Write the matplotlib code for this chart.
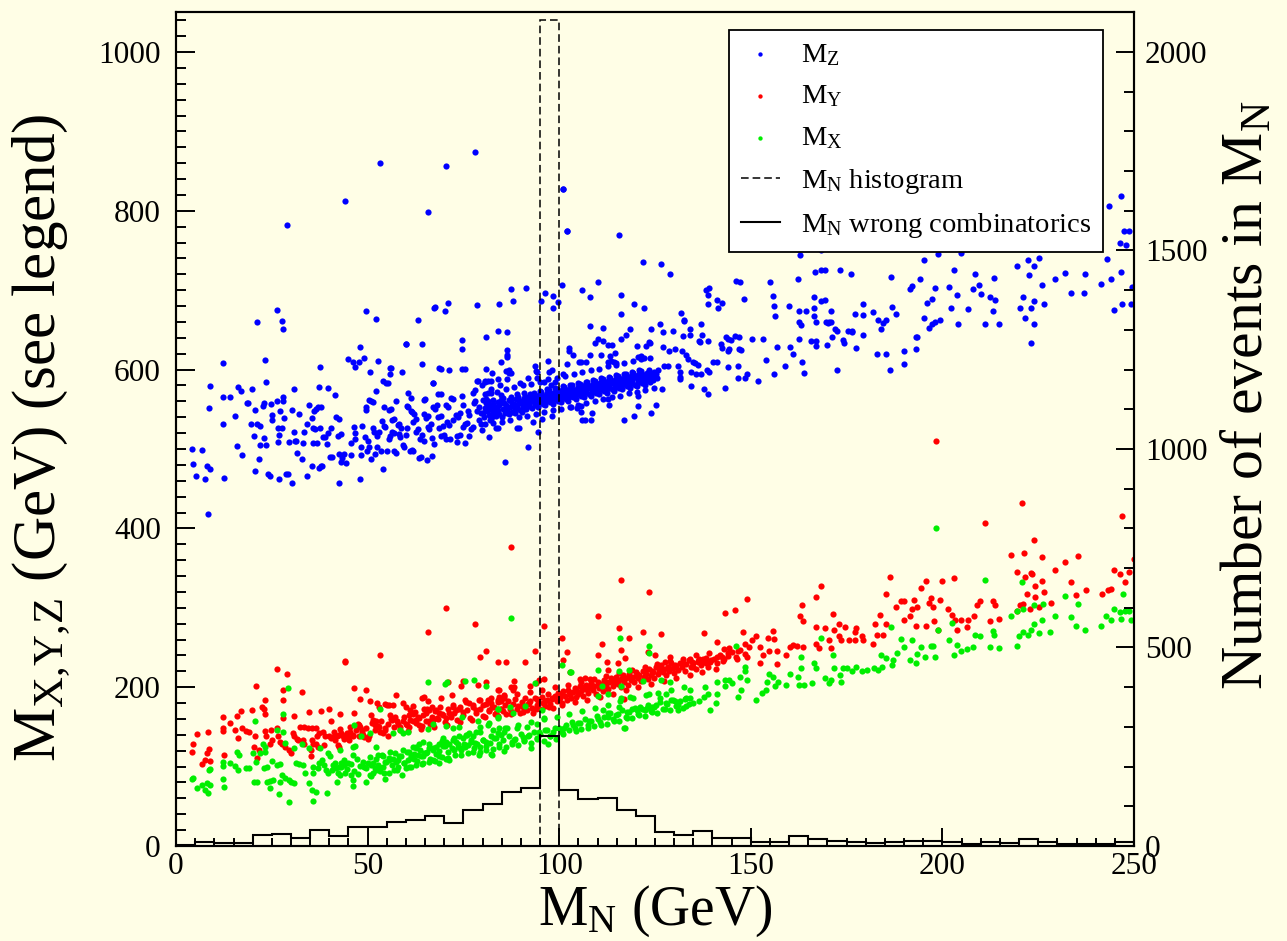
import numpy as np
import matplotlib
matplotlib.use("Agg")
import matplotlib.pyplot as plt
from matplotlib.ticker import MultipleLocator

plt.rcParams["font.family"] = "Liberation Serif"
plt.rcParams["mathtext.fontset"] = "custom"
plt.rcParams["mathtext.rm"] = "Liberation Serif"
plt.rcParams["mathtext.it"] = "Liberation Serif:italic"

# reconstructed masses per event (M_N, M_Z) in GeV
mz_pts = [
    (4.1,500),(4.4,481),(5.3,466),(6.7,499),(7.5,462),(8.1,479),(8.8,475),(8.4,418),(8.5,552),(8.8,579),
    (12.2,608),(12.2,566),(12.2,532),(12.6,463),(14.0,566),(15.4,542),(16.0,504),(16.2,578),(17.0,573),(17.1,493),
    (18.5,558),(18.9,558),(19.5,532),(19.9,576),(20.3,516),(20.7,549),(20.7,472),(21.0,660),(21.2,532),(22.0,529),
    (21.8,505),(21.7,488),(22.8,554),(23.0,558),(23.0,514),(23.3,612),(23.4,584),(23.5,505),(24.0,469),(24.5,466),
    (24.9,557),(25.1,543),(25.1,537),(26.4,561),(26.4,675),(26.5,526),(26.8,518),(26.6,509),(26.9,462),(27.1,548),
    (27.6,526),(27.7,661),(27.9,651),(28.0,565),(28.0,560),(28.3,539),(28.7,469),(29.2,469),(29.6,509),(30.3,549),
    (30.3,457),(30.7,576),(30.8,521),(31.1,510),(31.4,510),(31.5,495),(32.2,544),(32.9,487),(33.0,507),(33.5,521),
    (34.2,466),(34.3,532),(34.8,555),(35.4,479),(35.5,539),(35.7,526),(36.2,525),(36.0,548),(36.4,550),(37.0,553),
    (37.7,553),(35.8,508),(36.7,508),(37.6,603),(37.4,578),(37.6,527),(37.2,476),(37.7,478),(38.1,479),(38.3,515),
    (39.0,515),(39.7,520),(39.5,506),(39.7,577),(40.2,490),(40.7,490),(40.5,527),(41.5,568),(41.8,540),(42.5,538),
    (42.3,516),(43.0,519),(42.4,457),(42.6,494),(43.2,489),(43.0,483),(43.7,494),(44.4,482),(44.9,613),(45.6,492),
    (45.7,508),(46.1,609),(46.7,603),(46.5,528),(46.6,520),(46.7,513),(47.7,610),(48.0,629),(48.1,462),(48.2,492),
    (48.3,503),(48.6,529),(49.0,614),(49.2,515),(49.6,553),(49.7,549),(49.7,674),(49.9,497),
    (29.0,782),(44.1,812),(53.1,860),(65.8,798),(70.4,857),(77.9,874),(100.9,827),(101.9,775),
    (50.3,503),(50.2,510),(50.4,562),(51.0,560),(51.4,559),(50.7,597),(50.9,487),(51.3,526),(51.7,522),(51.8,494),
    (52.3,573),(52.1,664),(52.4,503),(52.5,516),(53.0,522),(52.8,611),(53.4,498),(53.7,535),(54.2,529),(54.6,528),
    (53.9,475),(54.0,586),(54.3,553),(54.9,583),(55.0,498),(55.7,549),(56.2,551),(55.5,512),(55.9,516),(55.8,594),
    (55.9,602),(56.3,536),(57.0,538),(56.4,521),(56.8,520),(57.0,498),(57.5,495),(57.4,560),(57.8,530),(58.3,532),
    (58.8,527),(58.2,519),(58.5,515),(59.1,505),(59.6,503),(59.0,597),(59.9,632),(60.0,517),(60.3,526),(60.3,554),
    (60.6,553),(60.6,571),(61.0,498),(61.5,499),(61.9,498),(61.3,548),(61.7,547),(62.2,544),(61.4,564),(61.8,534),
    (62.5,538),(62.6,521),(63.2,525),(63.1,663),(63.3,489),(63.8,490),(63.7,513),(64.2,518),(64.6,510),(64.3,632),
    (64.2,607),(64.7,562),(65.0,563),(64.6,544),(65.2,539),(65.7,541),(65.4,486),(65.7,528),(66.1,525),(66.6,531),
    (66.7,514),(67.3,506),(66.9,491),(67.0,583),(67.4,678),(67.0,553),(67.7,551),(68.2,555),(68.3,569),(69.2,569),
    (68.4,540),(69.1,542),(68.7,602),(68.6,527),(69.6,529),(69.2,516),(69.8,518),(70.2,674),(70.9,684),(70.4,556),
    (71.0,553),(71.8,564),(72.4,563),(70.7,534),(71.3,530),(72.2,536),(71.2,600),(70.5,513),(71.5,513),(73.0,543),
    (73.6,540),(74.1,545),(73.3,516),(74.2,518),(73.4,509),(74.5,637),(74.5,626),(74.5,567),(74.9,556),(74.7,601),
    (75.3,601),(75.3,507),(75.0,528),(75.5,531),(75.8,533),(76.2,548),(76.5,543),(76.5,516),(77.0,525),(77.4,528),
    (77.4,571),(78.0,574),(77.7,558),(78.1,561),(78.5,548),(79.1,553),(79.6,545),(78.6,681),(78.7,586),(79.1,537),
    (79.5,531),(79.8,524),(80.1,562),(80.5,569),(80.9,641),(81.0,601),(81.3,586),(81.8,515),(81.7,551),(82.2,556),
    (82.6,549),(83.0,553),(83.3,545),(81.9,537),(82.6,541),(82.3,576),(82.3,570),
    (87.3,701),(91.2,703),(87.9,686),(96.3,696),(98.5,693),(95.3,686),(98.5,678),(99.8,685),(100.6,706),(67.5,679),
    (84.2,683),(60.0,632),(84.1,649),(86.3,647),(86.3,625),(86.5,618),(86.4,616),(56.0,602),(93.7,605),(94.0,598),
    (97.1,611),(97.4,597),(94.1,590),(86.8,600),(86.1,598),(82.5,596),(82.1,586),(78.6,586),(80.6,586),(69.2,601),
    (67.1,583),(55.2,583),(85.8,483),(91.8,503),
    (84.8,609),(86.8,596),(87.4,596),(83.9,588),(86.3,588),(80.5,585),(79.8,580),(84.5,581),(89.8,583),(91.8,590),
    (94.1,597),(98.1,599),(96.1,585),(97.9,581),(98.9,585),(94.4,521),(95.4,538),(98.0,541),(88.9,527),(89.4,527),
    (83.5,526),(84.1,526),(93.2,534),
    (102.6,627),(102.6,623),(103.6,619),(102.1,607),(101.0,594),(105.1,609),(105.7,610),(107.1,610),(108.0,619),(108.0,655),
    (111.3,653),(109.4,634),(110.0,638),(111.4,636),(112.6,631),(113.9,631),(114.5,621),(110.9,619),(113.2,617),(112.6,610),
    (113.5,611),(114.2,610),(114.8,608),(116.0,638),(117.3,644),(118.6,651),(120.3,630),(122.7,630),(123.4,635),(123.8,634),
    (121.4,617),(120.6,616),(122.0,614),(123.9,651),(126.4,657),(127.0,629),(127.2,647),(128.6,623),(130.1,626),(129.7,649),
    (127.3,605),(128.4,605),(131.1,605),(131.4,597),(131.4,591),(131.4,588),(132.2,642),(134.2,643),(132.6,661),(134.0,651),
    (136.9,657),(132.0,623),(133.2,618),(133.7,613),(134.9,610),(135.4,608),(136.3,606),(136.4,636),(136.7,635),(138.9,636),
    (137.2,644),(134.3,597),(135.7,594),(136.9,594),(138.5,600),(139.2,597),(134.4,579),(137.8,575),(138.7,569),(140.2,610),
    (141.3,610),(142.1,632),(142.6,627),(143.5,641),(144.1,639),(144.7,637),(144.1,623),(144.4,626),(146.0,642),(147.0,641),
    (146.8,626),(147.4,625),(144.1,603),(143.3,577),(146.6,604),(146.6,590),
    (103.1,553),(104.6,552),(105.6,554),(105.8,546),(105.9,537),(106.8,537),(108.6,545),(108.3,537),(112.8,563),(113.0,556),
    (117.0,537),(119.4,541),(120.6,567),(120.6,554),(123.9,545),(125.3,555),(126.9,576),
    (100.9,827),(102.0,775),(115.5,769),(121.9,736),(126.5,733),(129.0,721),(110.2,710),(105.9,700),(108.1,692),(116.0,694),
    (116.1,670),(119.6,683),(122.2,678),(131.8,671),(132.6,663),(138.4,700),(139.1,703),(138.9,694),(138.8,683),(141.5,677),
    (142.4,684),(141.2,688),(146.1,711),(147.3,710),(148.2,689),(155.0,710),(155.9,693),(156.1,680),(156.2,667),(159.9,680),
    (162.2,714),(162.4,752),(162.9,744),(168.2,751),(166.8,723),(168.3,725),(169.4,725),(173.3,725),(176.2,720),(166.4,692),
    (168.4,686),(169.3,688),(162.6,674),(164.5,674),(166.5,677),(162.5,660),(163.1,656),(166.5,667),(166.9,660),(169.6,660),
    (170.5,660),(170.8,674),(171.9,651),(172.6,649),(175.3,649),(176.5,647),(177.1,670),(179.3,669),(179.2,682),(181.8,673),
    (183.1,663),(183.9,651),(184.6,659),(185.3,663),(186.6,716),(186.8,679),(187.8,670),(191.5,702),(192.0,705),(194.2,714),
    (195.1,738),(198.1,703),(198.8,746),(196.1,684),(197.2,689),(195.2,665),(196.4,653),(197.4,658),(198.0,660),(199.3,663),
    (201.6,704),(202.3,678),(203.1,725),(203.8,694),(204.1,657),(204.8,747),(206.6,676),(208.0,701),(208.6,721),(209.5,706),
    (210.2,695),(211.1,658),(212.3,691),(213.8,688),(213.4,715),(213.3,674),(214.8,657),(219.5,730),(222.3,738),(224.0,730),
    (225.2,740),(222.5,719),(221.0,691),(220.2,677),(221.6,665),(223.2,677),(224.0,687),(223.8,658),(223.2,633),(225.9,706),
    (226.6,683),(229.5,714),(232.0,722),(233.6,696),(237.0,696),(237.3,721),(235.5,754),(241.5,708),(243.9,714),(243.0,739),
    (243.5,806),(246.6,819),(247.5,774),(248.6,774),(246.3,759),(247.8,757),(246.6,723),(246.9,682),(249.2,683),(244.9,675),
    (249.6,704),
    (148.5,589),(148.9,594),(150.3,638),(151.8,586),(153.2,638),(153.9,612),(156.1,594),(156.9,628),(158.8,605),(160.2,628),
    (161.0,620),(162.6,638),(163.3,610),(163.8,596),(165.6,636),(166.9,636),(167.0,630),(169.9,631),(170.1,659),(171.0,660),
    (171.2,641),(172.6,600),(174.1,637),(174.4,633),(177.5,627),(179.2,644),(176.4,648),(182.9,620),(185.4,620),(186.2,600),
    (190.1,607),(190.0,624),(193.2,626),(193.0,641),(193.3,641),
]

# dense core of the M_Z band between 80 and 125 GeV
mz_core = [
    (80.2,545),(80.6,552),(80.9,558),(80.4,540),(80.8,563),(81.1,548),(81.5,556),(81.8,543),(81.3,561),
    (82.1,550),(82.4,544),(82.8,557),(82.6,562),(82.2,538),(83.2,553),(83.6,546),(83.9,559),(83.4,541),
    (84.1,549),(84.4,555),(84.7,562),(84.3,544),(84.9,568),(85.2,551),(85.5,558),(85.8,545),(85.4,564),(85.1,540),
    (86.2,556),(86.5,549),(86.8,562),(86.4,553),(86.9,544),(87.1,553),(87.5,560),(87.8,547),(87.3,566),
    (88.2,557),(88.5,551),(88.8,563),(88.4,545),(88.9,569),(89.1,555),(89.4,561),(89.7,549),(89.3,566),(89.9,558),
    (90.2,558),(90.5,553),(90.8,564),(90.4,547),(90.9,570),(91.1,560),(91.4,555),(91.7,566),(91.3,550),(91.9,562),
    (92.2,557),(92.5,563),(92.8,552),(92.4,569),(92.9,560),(93.1,561),(93.4,566),(93.7,555),(93.3,571),(93.9,558),
    (94.2,563),(94.5,558),(94.8,568),(94.4,553),(94.9,573),(95.1,562),(95.4,567),(95.7,557),(95.3,572),(95.9,565),(95.6,560),
    (96.2,565),(96.5,560),(96.8,570),(96.4,555),(96.9,575),(96.6,568),(97.1,564),(97.4,569),(97.7,559),(97.3,574),(97.9,566),(97.6,562),
    (98.2,567),(98.5,562),(98.8,572),(98.4,557),(98.9,577),(98.6,570),(99.1,566),(99.4,571),(99.7,561),(99.3,576),(99.9,568),(99.6,564),
    (100.2,569),(100.5,564),(100.8,574),(100.4,559),(100.9,579),(100.6,571),(101.1,568),(101.4,573),(101.7,563),(101.3,578),(101.9,571),
    (102.2,571),(102.5,566),(102.8,576),(102.4,561),(102.9,581),(103.1,570),(103.4,575),(103.7,565),(103.3,580),(103.9,573),
    (104.2,573),(104.5,568),(104.8,578),(104.4,563),(104.9,583),(105.1,572),(105.4,577),(105.7,567),(105.3,582),(105.9,575),
    (106.2,575),(106.5,570),(106.8,580),(106.4,565),(106.9,585),(107.1,574),(107.4,579),(107.7,569),(107.3,584),(107.9,577),
    (108.2,577),(108.5,572),(108.8,582),(108.4,567),(108.9,587),(109.1,576),(109.4,581),(109.7,571),(109.3,586),(109.9,579),
    (110.2,579),(110.5,574),(110.8,584),(110.4,569),(110.9,589),(111.1,578),(111.4,583),(111.7,573),(111.3,588),(111.9,581),
    (112.2,581),(112.5,576),(112.8,586),(112.4,571),(112.9,591),(113.1,580),(113.4,585),(113.7,575),(113.3,590),(113.9,583),
    (114.2,583),(114.5,578),(114.8,588),(114.4,573),(114.9,593),(115.1,582),(115.4,587),(115.7,577),(115.3,592),(115.9,585),
    (116.2,585),(116.5,580),(116.8,590),(116.4,575),(116.9,595),(117.1,584),(117.4,589),(117.7,579),(117.3,594),(117.9,587),
    (118.2,587),(118.5,582),(118.8,592),(118.4,577),(118.9,597),(119.1,586),(119.4,591),(119.7,581),(119.3,596),
    (120.2,589),(120.5,584),(120.8,594),(120.4,579),(120.9,599),(121.1,588),(121.4,593),(121.7,583),(121.3,598),
    (122.2,591),(122.5,586),(122.8,596),(122.4,581),(123.1,590),(123.4,595),(123.7,585),(123.3,600),
    (124.2,592),(124.5,587),(124.8,597),(125.2,594),(125.5,589),(125.8,599),
    (80.5,531),(81.4,570),(82.7,533),(83.8,572),(85.0,534),(86.1,575),(87.2,537),(88.3,578),(89.5,540),(90.6,580),
    (91.6,542),(92.7,582),(93.9,544),(95.0,585),(96.0,547),(97.1,588),(98.3,549),(99.4,590),(100.5,551),(101.6,592),
    (102.7,553),(103.8,595),(104.9,556),(106.0,597),(107.1,558),(108.2,599),(109.3,560),(110.4,601),(111.5,563),(112.6,604),
    (113.7,565),(114.8,606),(115.9,567),(117.0,608),(118.1,570),(119.2,611),(120.3,572),(121.4,613),(122.5,574),(123.6,615),
    (124.7,577),
    (80.9,549),(81.7,553),(83.0,548),(84.6,558),(86.0,552),(87.7,556),(89.0,553),(90.0,561),(91.2,564),(92.0,554),
    (93.5,563),(94.7,565),(95.5,562),(96.7,566),(97.5,571),(98.7,568),(99.5,573),(100.3,566),(101.5,576),(102.0,569),
    (103.5,572),(104.7,575),(105.5,579),(106.7,577),(107.5,581),(108.7,579),(109.5,583),(110.7,581),(111.5,585),(112.7,583),
    (113.5,587),(114.7,585),(115.5,589),(116.7,587),(117.5,591),(118.7,589),(119.5,593),(120.7,591),(121.5,595),(122.7,593),
    (123.5,597),
]

my_pts = [
    (4.1,119),(4.5,129),(5.4,141),(6.7,103),(7.5,108),(8.4,143),(8.2,117),(8.5,122),(8.8,107),(12.2,163),
    (12.2,149),(12.2,145),(12.6,115),(14.0,155),(15.4,146),(16.0,164),(16.1,136),(17.0,170),(17.1,148),(18.3,145),
    (19.0,144),(19.9,171),(20.9,202),(20.4,125),(21.0,111),(20.7,138),(21.7,121),(22.4,175),(23.0,173),(23.3,166),
    (23.3,184),(23.1,145),(23.6,139),(24.7,146),(25.0,133),(24.5,129),(26.4,223),(26.3,149),(26.5,138),(27.2,131),
    (27.7,129),(27.8,184),(28.0,196),(28.0,161),(29.0,217),(28.4,125),(29.6,121),(30.0,117),(30.4,142),(30.9,138),
    (31.5,135),(31.8,134),(30.7,164),(32.9,194),(32.4,150),(33.3,150),(34.4,149),(35.5,149),(36.5,149),(33.0,134),
    (33.3,129),(34.6,169),(35.1,121),(35.2,113),(35.5,134),(35.8,128),(36.7,139),(37.4,142),(38.3,143),(39.0,139),
    (37.7,170),(39.8,172),(36.5,129),(37.0,125),(38.7,127),(40.0,138),(40.9,137),(41.8,138),(42.6,140),(40.5,158),
    (41.6,133),(42.2,127),(42.4,125),(42.9,166),(43.1,142),(43.5,138),(44.4,140),(44.8,137),(44.0,233),(45.1,133),
    (45.4,144),(46.1,138),(46.4,199),(46.5,167),(47.4,154),(48.0,150),(48.5,146),(47.8,138),(48.7,140),(49.1,137),
    (50.0,135),(48.0,185),(49.6,196),(50.5,183),(51.0,165),(51.3,159),(51.8,152),(52.2,157),(52.9,150),(52.5,180),
    (52.9,175),(53.2,241),(53.3,144),(53.9,142),(54.5,146),(54.4,179),(55.1,178),(55.7,178),(56.5,177),(55.3,138),
    (55.9,165),(56.4,159),(57.1,163),(57.4,190),(57.8,154),(58.5,150),(59.2,157),(60.0,154),(59.2,180),(60.0,175),
    (61.1,171),(61.9,176),(60.9,150),(61.8,157),(62.6,159),(63.5,152),(60.9,165),(62.2,167),(63.1,163),(64.4,165),
    (64.1,186),(64.8,188),(65.7,183),(65.8,269),(64.8,173),(65.9,171),(66.8,175),(67.9,171),(65.2,157),(66.3,154),
    (67.0,159),(68.0,161),(68.7,167),(69.6,165),(70.5,161),(71.3,167),(69.2,186),(70.9,207),(72.0,190),(70.4,300),
    (72.2,175),(73.1,171),(73.9,173),(74.8,169),(74.4,201),(75.0,208),(75.5,184),(76.5,180),(77.4,175),(78.3,171),
    (77.9,280),(79.2,238),(80.9,245),(78.7,203),(80.9,207),(79.2,184),(80.0,178),(81.3,184),(82.2,180),(83.1,175),
    (83.9,184),(84.8,182),(85.7,186),(84.1,232),(86.1,232),(81.8,171),(83.5,167),(84.8,173),(84.4,196),(85.7,190),
    (87.3,376),(44.1,232),
    (91.1,232),(93.7,246),(96.0,277),(94.8,209),(96.0,210),(88.2,208),(87.4,200),(88.3,200),(88.0,196),(84.1,196),
    (84.4,188),(92.4,201),(93.9,205),(100.7,262),(100.9,234),(101.9,244),(102.8,219),(105.4,210),(106.6,212),(108.0,210),
    (110.0,290),(110.0,240),(111.2,255),(112.4,232),(112.8,222),(115.4,230),(115.7,275),(116.1,247),(117.2,237),(118.2,262),
    (121.8,270),(123.2,244),(126.5,267),(125.0,241),(127.6,232),(128.9,238),(134.1,235),(136.3,232),(138.0,234),(139.4,232),
    (141.1,238),(142.4,238),(142.8,233),(137.9,268),(141.1,257),(143.3,294),(146.0,297),(148.0,270),(148.6,254),(144.1,243),
    (146.7,245),(146.3,236),(148.9,238),(117.0,185),(116.1,335),(123.4,320),(149.0,311),(137.0,230),(135.0,226),(144.2,249),
    (198.3,510),
    (220.9,432),(211.1,407),(246.9,416),(217.9,366),(221.2,369),(223.8,386),(226.1,364),(219.4,345),(221.5,339),(223.1,344),
    (223.4,342),(225.9,334),(224.2,327),(222.2,317),(224.1,313),(225.2,301),(228.3,306),(220.3,304),(219.5,296),(221.0,305),
    (222.8,298),(226.5,320),(229.5,348),(232.0,358),(233.5,333),(235.4,365),(234.8,316),(237.4,322),(241.6,318),(243.1,323),
    (244.0,324),(244.9,347),(246.3,343),(247.6,333),(248.6,345),(249.9,361),(202.9,337),(200.0,334),(186.2,339),(185.2,318),
    (194.3,325),(195.6,334),(197.1,312),(199.3,310),(196.4,306),(197.6,301),(187.9,301),(189.1,308),(190.1,309),(192.5,310),
    (192.0,298),(193.3,301),(201.5,298),(202.6,291),(203.4,285),(204.8,285),(206.8,285),(208.2,290),(203.9,272),(206.5,276),
    (209.0,303),(209.8,308),(213.3,308),(213.8,303),(212.3,284),(214.8,286),(189.9,285),(191.5,290),(193.0,277),(195.6,277),
    (197.9,284),(198.9,272),(183.8,291),(182.3,280),(185.2,280),(182.9,266),(184.5,266),(181.9,254),(177.5,275),(177.1,270),
    (174.6,276),(172.9,264),(173.6,259),(175.5,259),(177.1,259),(179.0,265),(179.3,259),(168.2,327),(166.9,314),(163.4,304),
    (162.9,290),(163.5,284),(166.9,276),(169.3,274),(171.8,272),(171.5,292),(173.0,279),(161.1,253),(162.1,252),(160.1,251),
    (163.5,250),(166.9,255),(167.9,249),(170.3,259),(170.8,249),(155.9,271),(156.1,261),(154.4,262),(152.5,251),(153.3,240),
    (152.4,230),(154.8,246),(156.8,245),(159.2,240),(156.8,229),(151.4,264),(150.4,259),
]

# dense core of the M_Y band
my_core = [
    (40.4,136),(41.2,144),(42.0,139),(42.9,147),(43.7,135),(44.5,142),(45.3,150),(46.2,140),(47.0,146),(47.8,153),
    (48.6,143),(49.5,149),(50.3,139),(51.1,155),(51.9,146),(52.8,151),(53.6,158),(54.4,148),(55.2,154),(56.1,160),
    (56.9,150),(57.7,157),(58.5,146),(59.4,162),(60.2,153),(61.0,159),(61.8,166),(62.7,155),(63.5,161),(64.3,151),
    (65.1,168),(66.0,158),(66.8,163),(67.6,170),(68.4,160),(69.3,166),(70.1,156),(70.9,172),(71.7,163),(72.6,168),
    (73.4,159),(74.2,175),(75.0,165),(75.9,171),(76.7,161),(77.5,177),(78.3,168),(79.2,173),(80.0,164),(80.8,179),
    (81.6,170),(82.5,175),(83.3,166),(84.1,181),(84.9,172),
    (85.3,170),(85.8,178),(86.2,166),(86.7,182),(87.1,173),(87.6,169),(88.0,179),(88.4,185),(88.9,172),(89.3,176),
    (89.7,168),(90.2,181),(90.6,175),(91.0,187),(91.5,171),(91.9,179),(92.3,183),(92.8,174),(93.2,168),(93.6,186),
    (94.1,178),(94.5,182),(94.9,173),(95.4,188),(95.8,180),(96.2,176),(96.7,184),(97.1,191),(97.5,179),(98.0,185),
    (98.4,174),(98.8,189),(99.3,182),(99.7,193),(100.1,186),(100.6,180),(101.0,195),(101.4,189),(101.9,184),(102.3,197),
    (102.7,190),(103.2,186),(103.6,194),(104.0,199),(104.5,188),(104.9,192),(105.3,201),(105.8,195),(106.2,189),(106.6,198),
    (107.1,203),(107.5,193),(107.9,199),(108.4,205),(108.8,196),(109.2,201),(109.7,191),(110.1,207),(110.5,199),(111.0,204),
    (111.4,195),(111.8,209),(112.3,202),(112.7,198),(113.1,206),(113.6,211),(114.0,201),(114.4,207),(114.9,213),(115.3,204),
    (115.7,209),(116.2,200),(116.6,215),(117.0,207),(117.5,211),(117.9,203),(118.3,217),(118.8,209),(119.2,213),(119.6,206),
    (120.1,219),(120.5,211),(120.9,215),(121.4,208),(121.8,221),(122.2,213),(122.7,217),(123.1,210),(123.5,223),(124.0,215),
    (124.4,219),(124.8,212),(125.3,225),(125.7,217),(126.1,221),(126.6,228),(127.0,219),(127.4,223),(127.9,215),(128.3,226),
    (128.7,221),(129.2,230),(129.6,224),(130.0,218),(130.5,227),(131.0,222),(131.6,231),(132.1,226),(132.7,220),(133.2,229),
    (133.8,234),(134.4,225),(135.0,230),(135.6,223),(136.2,233),(136.9,228),(137.5,236),(138.2,230),(138.9,226),(139.6,234),
    (140.3,236),(141.2,231),(142.0,240),(143.1,235),(144.0,239),(145.2,244),(146.1,238),(147.3,247),(148.4,242),(149.5,250),
    (60.6,145),(62.3,169),(64.0,147),(65.6,172),(67.3,150),(69.0,175),(70.6,153),(72.3,178),(74.0,156),(75.6,181),
    (77.3,159),(79.0,184),(80.6,162),(82.3,187),(84.0,164),(85.6,189),(87.3,166),(89.0,191),(90.6,169),(92.3,194),
    (94.0,172),(95.6,197),(97.3,175),(99.0,200),(100.6,178),(102.3,203),(104.0,181),(105.6,206),(107.3,184),(109.0,210),
    (110.6,188),(112.3,214),(114.0,192),(115.6,218),(117.3,196),(119.0,222),(120.6,200),(122.3,226),(124.0,204),(125.6,229),
    (127.3,208),(129.0,233),(130.6,212),(132.3,236),(134.0,215),(135.6,240),(137.3,219),(139.0,243),(141.0,223),(143.0,248),
    (90.3,177),(92.1,180),(94.3,185),(96.4,182),(98.2,187),(100.4,192),(102.5,194),(104.3,196),(106.4,200),(108.2,202),
    (110.3,204),(112.1,206),(114.2,209),(116.4,211),(118.1,214),(120.3,216),(122.4,219),(124.2,221),(126.3,223),(128.5,225),
    (130.2,228),(132.4,230),(134.6,232),(136.5,235),(138.4,237),
]

mx_pts = [
    (4.1,85),(4.5,86),(5.4,73),(6.7,77),(7.5,71),(8.4,67),(8.2,79),(8.8,77),(8.5,96),(8.8,97),
    (12.2,106),(12.2,101),(12.2,85),(12.6,74),(14.0,104),(15.4,101),(16.2,96),(16.0,118),(16.5,115),(18.3,98),
    (19.1,98),(20.0,117),(20.3,80),(21.0,81),(20.7,157),(20.9,106),(21.9,117),(22.8,128),(23.3,125),(23.1,119),
    (23.0,98),(23.7,99),(23.8,81),(24.4,82),(25.2,83),(24.6,73),(25.0,107),(26.4,146),(26.4,102),(27.0,103),
    (26.8,66),(27.2,81),(27.8,166),(28.0,143),(28.4,130),(27.7,89),(28.5,86),(29.6,83),(30.0,80),(30.7,79),
    (29.1,199),(29.6,55),(30.9,124),(31.4,104),(32.2,103),(32.9,129),(33.1,102),(33.7,92),(34.7,123),(35.7,100),
    (35.8,92),(37.0,98),(34.8,79),(35.5,71),(36.4,68),(35.8,57),(37.2,104),(37.6,124),(38.1,108),(38.7,102),
    (39.1,96),(39.6,92),(39.4,67),(39.6,117),(40.2,113),(40.9,102),(41.8,98),(42.6,100),(43.1,104),(43.9,102),
    (44.8,104),(42.0,80),(42.9,89),(44.2,92),(45.7,89),(46.1,83),(47.4,91),(42.8,121),(46.1,114),(46.1,125),
    (46.7,126),(46.4,152),(46.3,75),(48.3,138),(49.1,100),(50.0,104),(50.9,102),(51.8,98),(52.6,102),(49.6,81),
    (50.5,89),(51.3,92),(52.2,96),(53.1,95),(53.9,100),(50.5,142),(52.2,125),(53.1,173),(53.9,113),(54.8,106),
    (55.7,108),(56.5,110),(57.4,106),(58.3,113),(54.4,84),(55.7,92),(57.0,96),(57.8,100),(59.0,89),(56.7,142),
    (58.5,146),(59.2,142),(60.5,144),(59.6,104),(60.5,108),(61.3,113),(62.2,110),(63.1,115),(63.9,113),(64.8,117),
    (60.9,119),(61.8,125),(62.6,123),(63.5,129),(64.4,131),(60.0,98),(61.3,100),(62.6,102),(64.4,104),(66.1,106),
    (65.2,117),(66.1,123),(67.0,121),(67.9,125),(68.7,129),(69.6,126),(70.5,131),(71.3,129),(65.7,147),(67.0,154),
    (69.6,136),(70.5,151),(70.3,204),(70.6,206),(65.8,207),(67.0,108),(68.7,113),(70.5,110),(71.3,108),(68.7,104),
    (72.2,134),(73.1,131),(73.9,138),(74.8,136),(75.7,140),(76.5,142),(77.4,138),(78.3,144),(72.6,121),(73.5,125),
    (74.4,123),(75.2,129),(76.1,127),(77.0,134),(77.9,130),(72.2,148),(73.8,150),(74.6,163),(75.3,208),(77.7,209),
    (78.7,157),(79.2,150),(80.9,202),(81.3,152),(81.8,155),(79.2,125),(80.0,134),(80.9,131),(82.2,138),(83.1,136),
    (83.9,142),(84.8,140),(85.7,144),(79.0,115),(82.2,116),(84.1,173),(84.1,163),(84.2,148),
    (87.4,287),(93.7,205),(100.6,228),(102.8,219),(103.0,219),(110.0,222),(110.1,189),(111.1,201),(112.6,191),(115.9,262),
    (115.6,220),(116.0,202),(116.0,187),(118.2,222),(117.0,149),(123.3,252),(123.5,243),(121.8,208),(126.5,209),(128.9,206),
    (134.1,197),(138.0,200),(141.1,206),(143.3,209),(146.1,252),(148.5,220),(148.9,209),
    (97.2,128),(92.6,123),(85.7,120),(82.4,115),(84.1,173),(87.2,175),(91.1,176),(84.1,161),(88.0,167),(86.3,148),
    (89.1,148),(91.5,150),(95.4,171),(95.9,161),(94.1,154),
    (198.3,400),(211.1,335),(220.9,333),(221.1,299),(223.9,303),(226.3,305),(217.9,290),(219.5,296),(220.1,264),(221.0,270),
    (222.4,266),(223.1,272),(223.9,280),(225.9,285),(225.3,268),(228.0,270),(219.5,252),(229.5,290),(232.1,315),(233.5,288),
    (235.5,305),(234.8,277),(237.2,272),(241.5,277),(242.8,290),(244.0,285),(244.9,298),(246.3,295),(247.1,318),(247.6,296),
    (248.8,296),(246.6,286),(249.1,285),(208.6,266),(209.9,264),(213.1,271),(213.5,266),(212.5,250),(214.8,249),(208.0,251),
    (206.5,248),(204.9,246),(203.9,253),(202.4,281),(202.9,240),(201.6,259),(198.9,272),(197.6,252),(196.9,252),(198.0,238),
    (195.4,238),(194.4,251),(193.4,242),(193.0,230),(192.0,259),(191.5,234),(190.1,251),(189.3,261),(188.2,243),(186.8,228),
    (187.2,234),(186.5,276),(183.9,240),(185.4,237),(184.3,226),(183.1,222),(182.2,224),(180.4,222),(179.0,220),(177.5,226),
    (176.5,220),(175.1,224),(174.1,224),(171.8,224),(169.3,211),(170.8,209),(173.6,207),(173.2,215),(170.3,205),(168.2,262),
    (171.5,240),(166.5,230),(166.9,224),(163.0,224),(163.0,238),(162.3,213),(162.6,203),(164.0,203),(166.0,205),(160.1,217),
    (159.2,203),(156.3,201),(157.0,207),(155.8,213),(154.8,217),(154.3,207),(152.9,193),(151.4,184),(153.9,196),
    (148.5,226),(147.1,213),(147.5,196),(146.6,188),(145.1,205),(144.2,209),(143.2,201),(141.3,192),(140.8,180),(139.3,171),
    (138.9,192),(137.9,188),(136.4,182),(135.0,180),(134.0,186),(133.1,176),(131.1,171),(129.2,184),(127.8,192),(126.3,186),
    (124.3,175),(123.4,192),(122.4,171),(121.0,175),(119.1,173),(118.5,188),(117.1,148),(115.6,175),(112.8,167),(111.3,171),
]

# dense core of the M_X band
mx_core = [
    (40.6,96),(41.4,104),(42.3,92),(43.1,100),(43.9,108),(44.7,97),(45.6,103),(46.4,95),(47.2,110),(48.0,101),
    (48.9,106),(49.7,98),(50.5,112),(51.3,104),(52.2,109),(53.0,100),(53.8,114),(54.6,106),(55.5,111),(56.3,102),
    (57.1,117),(57.9,108),(58.8,113),(59.6,105),(60.4,119),(61.2,111),(62.1,116),(62.9,107),(63.7,121),(64.5,113),
    (65.4,118),(66.2,110),(67.0,124),(67.8,116),(68.7,120),(69.5,112),(70.3,126),(71.1,118),(72.0,123),(72.8,114),
    (73.6,129),(74.4,121),(75.3,125),(76.1,117),(76.9,131),(77.7,123),(78.6,128),(79.4,119),(80.2,133),(81.0,126),
    (81.9,130),(82.7,122),(83.5,136),(84.3,128),(85.2,133),(86.0,125),(86.8,139),(87.6,131),(88.5,135),(89.3,127),
    (90.1,141),(90.9,134),(91.8,138),(92.6,130),(93.4,144),(94.2,136),(95.1,141),(95.9,132),(96.7,146),(97.5,139),
    (98.4,143),(99.2,135),(100.0,149),(100.8,143),(101.7,152),(102.5,146),(103.3,156),(104.1,149),(105.0,155),(105.8,147),
    (106.6,160),(107.4,153),(108.3,158),(109.1,151),(109.9,164),(110.7,156),(111.6,162),(112.4,154),(113.2,168),(114.0,160),
    (114.9,165),(115.7,157),(116.5,171),(117.3,163),(118.2,169),(119.0,161),(119.8,174),(120.6,166),(121.5,172),(122.3,164),
    (123.1,178),(123.9,170),(124.8,175),(125.6,167),(126.4,181),(127.2,173),(128.1,179),(128.9,171),(129.7,184),(130.5,176),
    (131.4,182),(132.2,174),(133.0,187),(133.8,179),
    (50.9,88),(52.6,114),(54.3,92),(55.9,118),(57.6,96),(59.3,121),(60.9,100),(62.6,125),(64.3,103),(65.9,129),
    (67.6,107),(69.3,132),(70.9,111),(72.6,136),(74.3,114),(75.9,140),(77.6,118),(79.3,143),(80.9,121),(82.6,146),
    (84.3,125),(85.9,149),(87.6,128),(89.3,153),(90.9,132),(92.6,156),(94.3,135),(95.9,160),(97.6,139),(99.3,162),
    (100.9,141),(102.6,166),(104.3,145),(105.9,170),(107.6,149),(109.3,174),(110.9,153),(112.6,178),(114.3,157),(115.9,182),
    (117.6,161),(119.3,186),(120.9,165),(122.6,190),(124.3,169),(125.9,193),(127.6,173),(129.3,197),(130.9,177),(132.6,200),
    (88.1,134),(90.5,137),(92.2,140),(94.7,143),(96.3,146),(98.8,148),(101.2,149),(103.7,152),(105.4,155),(107.9,158),
    (110.2,160),(112.8,163),(115.3,166),(117.8,169),(120.2,171),(122.8,174),(125.2,177),(127.8,180),(130.2,182),(132.8,185),
]

# M_N histograms, 5 GeV bins from 0 to 250 GeV (right axis)
bin_width = 5
wrong_comb = [3, 11, 8, 8, 28, 29, 19, 41, 26, 49, 47, 61, 66, 76, 57, 90, 105, 137, 147, 277,
              141, 119, 122, 91, 75, 34, 28, 37, 21, 21, 11, 11, 25, 18, 13, 11, 7, 10, 12, 13,
              9, 6, 9, 7, 18, 10, 5, 5, 6, 11]
true_bin = [95, 100]
true_count = [2080]

bg = "#fffee6"

fig = plt.figure(figsize=(12.87, 9.41), dpi=100, facecolor=bg)
ax = fig.add_axes([0.1368, 0.10096, 0.7443, 0.88597])
ax.set_facecolor(bg)
ax2 = ax.twinx()

mz = np.array(mz_pts + mz_core)
my = np.array(my_pts + my_core)
mx = np.array(mx_pts + mx_core)

dot = 20
ax.scatter(mz[:, 0], mz[:, 1], s=dot, color="#0000ff", linewidths=0, label=r"$\mathregular{M_Z}$")
ax.scatter(my[:, 0], my[:, 1], s=dot, color="#ff0000", linewidths=0, label=r"$\mathregular{M_Y}$")
ax.scatter(mx[:, 0], mx[:, 1], s=dot, color="#00ee00", linewidths=0, label=r"$\mathregular{M_X}$")

edges = np.arange(0, 250 + bin_width, bin_width)
ax2.stairs(true_count, true_bin, baseline=0, color="black", lw=1.1,
           linestyle=(0, (5, 2.6)), label=r"$\mathregular{M_N}$ histogram")
ax2.stairs(wrong_comb, edges, baseline=0, color="black", lw=1.5,
           label=r"$\mathregular{M_N}$ wrong combinatorics")

ax.set_xlim(0, 250)
ax.set_ylim(0, 1050)
ax2.set_ylim(0, 2100)

ax.xaxis.set_major_locator(MultipleLocator(50))
ax.xaxis.set_minor_locator(MultipleLocator(5))
ax.yaxis.set_major_locator(MultipleLocator(200))
ax.yaxis.set_minor_locator(MultipleLocator(20))
ax2.yaxis.set_major_locator(MultipleLocator(500))
ax2.yaxis.set_minor_locator(MultipleLocator(100))

ax.tick_params(which="both", direction="in", top=False, right=False, width=1.4)
ax.tick_params(axis="y", which="major", length=14, pad=11, labelsize=22.5)
ax.tick_params(axis="y", which="minor", length=7.5)
ax.tick_params(axis="x", which="major", length=13, pad=4, labelsize=22.5)
ax.tick_params(axis="x", which="minor", length=6)
ax2.tick_params(axis="y", which="both", direction="in", width=1.4)
ax2.tick_params(axis="y", which="major", length=13, pad=8, labelsize=22.5)
ax2.tick_params(axis="y", which="minor", length=7)

for a in (ax, ax2):
    for sp in a.spines.values():
        sp.set_linewidth(1.5)

ax.set_ylabel(r"$\mathregular{M_{X{,}Y{,}Z}}$ (GeV) (see legend)", fontsize=44)
ax.yaxis.set_label_coords(-0.108, 0.49)
ax2.set_ylabel(r"Number of events in $\mathregular{M_N}$", fontsize=43)
ax2.yaxis.set_label_coords(1.092, 0.54)
ax.set_xlabel(r"$\mathregular{M_N}$ (GeV)", fontsize=40)
ax.xaxis.set_label_coords(0.5, -0.045)

h1, l1 = ax.get_legend_handles_labels()
h2, l2 = ax2.get_legend_handles_labels()
leg = ax2.legend(h1 + h2, l1 + l2, loc="upper right", bbox_to_anchor=(0.9676, 0.9788),
                 borderaxespad=0, fontsize=20.5, frameon=True, fancybox=False,
                 framealpha=1, edgecolor="black", facecolor="white",
                 handlelength=1.35, handletextpad=0.75, labelspacing=0.55,
                 borderpad=0.42, scatterpoints=1, markerscale=0.7)
leg.get_frame().set_linewidth(1.3)

fig.savefig("out.png", dpi=100, facecolor=bg)
